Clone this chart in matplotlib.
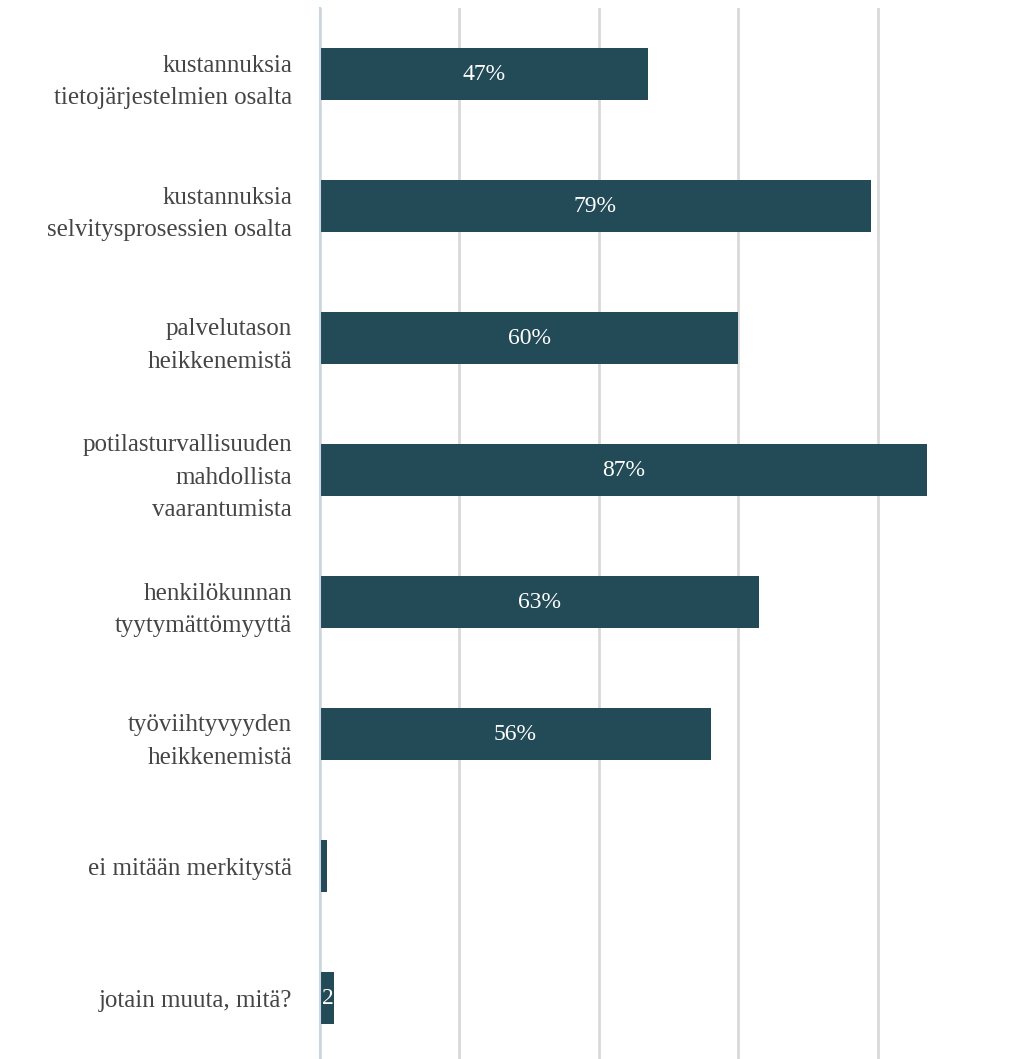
import matplotlib
matplotlib.use('Agg')
import matplotlib.pyplot as plt
import numpy as np

categories = ['kustannuksia\ntietojärjestelmien osalta',
              'kustannuksia\nselvitysprosessien osalta',
              'palvelutason\nheikkenemistä',
              'potilasturvallisuuden\nmahdollista\nvaarantumista',
              'henkilökunnan\ntyytymättömyyttä',
              'työviihtyvyyden\nheikkenemistä',
              'ei mitään merkitystä',
              'jotain muuta, mitä?']
values = [47, 79, 60, 87, 63, 56, 1, 2]
labels = ['47%', '79%', '60%', '87%', '63%', '56%', '', '2']

plt.rcParams['font.family'] = ['Liberation Serif', 'DejaVu Serif']

fig = plt.figure(figsize=(10.09, 10.59), dpi=100)
ax = fig.add_axes([320 / 1009, -5 / 1059, 1 - 320 / 1009, 1056 / 1059])

ypos = np.arange(len(categories))
bars = ax.barh(ypos, values, height=0.4, color='#234a57', zorder=3)

for bar, lab, v in zip(bars, labels, values):
    if not lab:
        continue
    cy = bar.get_y() + bar.get_height() / 2
    if v > 5:
        ax.text(v / 2, cy, lab, ha='center', va='center', color='white',
                fontsize=17, zorder=4)
    else:
        # tiny bar: label squeezed at the bar end
        ax.text(v, cy, lab, ha='right', va='center', color='white',
                fontsize=17, zorder=4)

ax.set_yticks(ypos)
ax.set_yticklabels(categories, fontsize=18, color='#454545', linespacing=1.6)
ax.set_ylim(len(categories) - 0.5, -0.5)
ax.set_xlim(0, 98.8)
ax.set_xticks([0, 20, 40, 60, 80])
ax.tick_params(axis='x', length=0, labelbottom=False)
ax.tick_params(axis='y', length=0, pad=20)
ax.grid(axis='x', color='#d9d9d9', linewidth=2, zorder=0)
for s in ['top', 'right', 'bottom']:
    ax.spines[s].set_visible(False)
ax.spines['left'].set_color('#c9d5e3')
ax.spines['left'].set_linewidth(1.5)
ax.spines['left'].set_zorder(5)

fig.savefig('out.png', dpi=100)
